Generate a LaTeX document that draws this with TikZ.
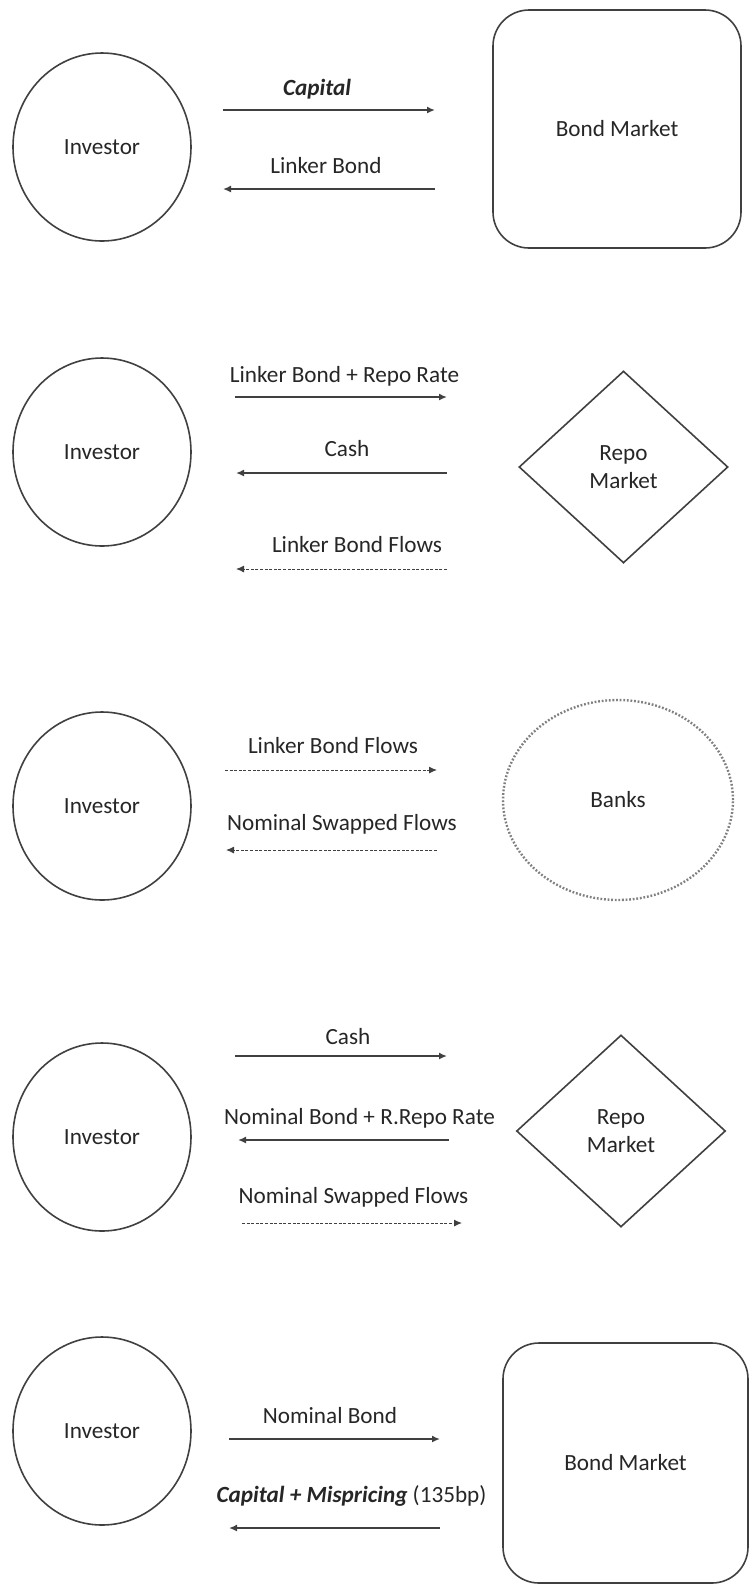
\documentclass[tikz,border=0pt]{standalone}
\usepackage{fontspec}
\setmainfont{Carlito}
\usetikzlibrary{shapes.geometric,arrows.meta}
\definecolor{linegray}{HTML}{404040}
\definecolor{textgray}{HTML}{262626}
\newcommand{\lw}{.8pt}
\newcommand{\tip}{Latex[length=4pt,width=3.5pt]}

\begin{document}
\begin{tikzpicture}[x=.5pt,y=-.5pt,
  every node/.style={font=\fontsize{11.6}{14}\selectfont, text=textgray},
  investor/.style={draw=linegray, line width=\lw, ellipse, minimum width=89pt, minimum height=94pt, inner sep=0pt},
  market/.style={draw=linegray, line width=\lw, rounded corners=18pt, inner sep=0pt},
  repo/.style={draw=linegray, line width=\lw, diamond, minimum width=104.5pt, minimum height=96pt, inner sep=0pt, align=center},
  bank/.style={draw=gray, line width=1.2pt, dash pattern=on .9pt off .9pt, ellipse, minimum width=115pt, minimum height=100pt, inner sep=0pt},
  lbl/.style={anchor=base, inner sep=0pt},
  flow/.style={draw=linegray, line width=\lw, -{\tip}},
  dflow/.style={draw=linegray, line width=.5pt, dash pattern=on 1.5pt off .8pt, -{\tip}}]

\useasboundingbox (0,0) rectangle (749,1587);

% bond market
\node (inv1) at (102,147) [investor] {Investor};
\node (bm1) at (617,129) [market, minimum width=124pt, minimum height=119pt] {Bond Market};
\coordinate (capL) at (223,110);
\coordinate (capR) at (435,110);
\coordinate (lbL) at (223,189);
\coordinate (lbR) at (435,189);
\node (capT) at (317,95) [lbl] {\textbf{\textit{Capital}}};
\node (lbT) at (326,173) [lbl] {Linker Bond};
\draw[flow] (capL) to (capR);
\draw[flow] (lbR) to (lbL);

% repo
\node (inv2) at (102,452) [investor] {Investor};
\node (repo2) at (623.5,467) [repo] {Repo\\Market};
\coordinate (rrL) at (235,397);
\coordinate (rrR) at (447,397);
\coordinate (cashL) at (236,473);
\coordinate (cashR) at (447,473);
\coordinate (lbfL) at (236,569);
\coordinate (lbfR) at (447,569);
\node (rrT) at (344.5,382) [lbl] {Linker Bond + Repo Rate};
\node (cashT) at (347,456) [lbl] {Cash};
\node (lbfT) at (357,552) [lbl] {Linker Bond Flows};
\draw[flow] (rrL) to (rrR);
\draw[flow] (cashR) to (cashL);
\draw[dflow] (lbfR) to (lbfL);

% swap
\node (inv3) at (102,806) [investor] {Investor};
\node (banks3) at (618,800) [bank] {Banks};
\coordinate (swL) at (225,770);
\coordinate (swR) at (437,770);
\coordinate (nsL) at (226,850);
\coordinate (nsR) at (437,850);
\node (swT) at (333,753) [lbl] {Linker Bond Flows};
\node (nsT) at (342,830) [lbl] {Nominal Swapped Flows};
\draw[dflow] (swL) to (swR);
\draw[dflow] (nsR) to (nsL);

% reverse repo
\node (inv4) at (102,1137) [investor] {Investor};
\node (repo4) at (621,1131) [repo] {Repo\\Market};
\coordinate (rcL) at (235,1056);
\coordinate (rcR) at (447,1056);
\coordinate (nbL) at (238,1140);
\coordinate (nbR) at (449,1140);
\coordinate (nfL) at (242,1223);
\coordinate (nfR) at (462,1223);
\node (rcT) at (348,1044) [lbl] {Cash};
\node (nbT) at (359.5,1124) [lbl] {Nominal Bond + R.Repo Rate};
\node (nfT) at (353.5,1203) [lbl] {Nominal Swapped Flows};
\draw[flow] (rcL) to (rcR);
\draw[flow] (nbR) to (nbL);
\draw[dflow] (nfL) to (nfR);

% sell nominal
\node (inv5) at (102,1431) [investor] {Investor};
\node (bm5) at (625.5,1463) [market, minimum width=122.5pt, minimum height=120pt] {Bond Market};
\coordinate (snL) at (229,1439);
\coordinate (snR) at (440,1439);
\coordinate (cmL) at (229,1528);
\coordinate (cmR) at (440,1528);
\node (snT) at (330,1423) [lbl] {Nominal Bond};
\node (cmT) at (351.5,1502) [lbl] {\textbf{\textit{Capital + Mispricing}} (135bp)};
\draw[flow] (snL) to (snR);
\draw[flow] (cmR) to (cmL);

\end{tikzpicture}
\end{document}
